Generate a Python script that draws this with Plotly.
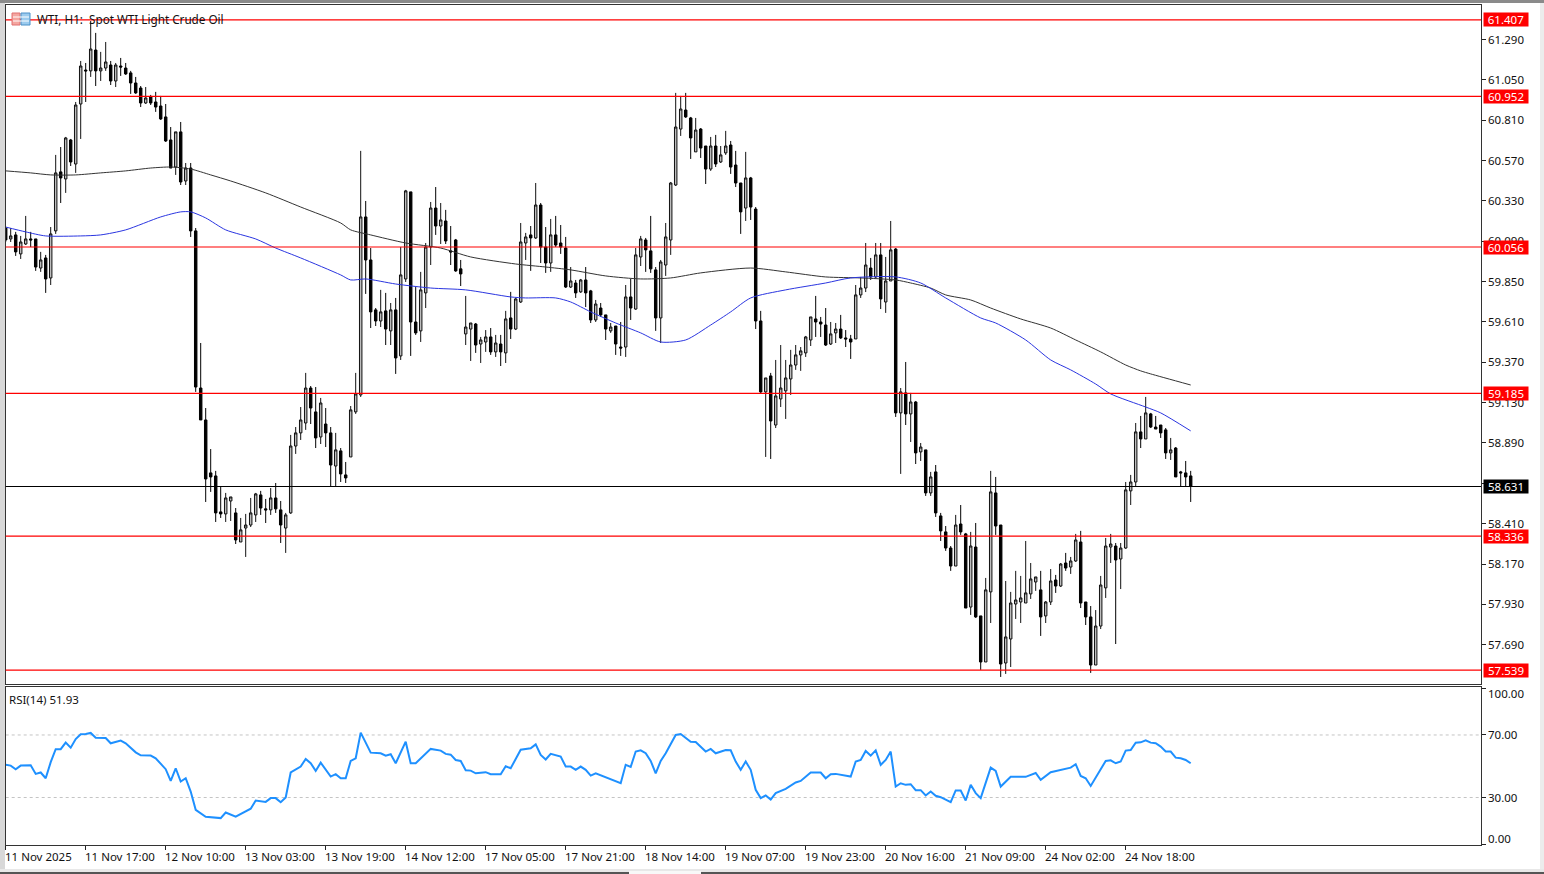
import plotly.graph_objects as go

# Candle data (body top / body bottom / high / low, by bar)
directions = (
    "bwbwwbbwbw" "wbwbwwbwbw" "wbwbbbbbwb" "bbbbwbwbbb" "bbbbwwbwww" "wbbwbbwwww"
    "wbbwbbwbbw" "wwbbbwbwbw" "wbbwwwbwbb" "bbwwbwwbwb" "wbwwwbwbbw" "bbbwbwbbwb"
    "bwbbwbwwbb" "bwwwwwbbwb" "bwbwwbbbwb" "bbwbwwwwww" "wwbbbwwbbb" "wwwbwbwwbw"
    "bwbwbwbbbb" "wbbwbbwwbb" "wwwwwwwbww" "bwbwwbbbww" "wwbwwwwbwb" "bbbwbbbb"
)
body_top = [
    60.169,60.122,60.128,60.086,60.104,60.104,60.104,59.979,59.991,60.134,
    60.497,60.503,60.705,60.693,60.901,61.133,61.109,61.234,61.228,61.121,
    61.157,61.139,61.139,61.133,61.121,61.092,61.032,61.002,60.943,60.949,
    60.919,60.895,60.830,60.693,60.741,60.741,60.526,60.526,60.152,59.217,
    59.027,58.712,58.694,58.480,58.563,58.569,58.474,58.373,58.402,58.474,
    58.587,58.581,58.498,58.563,58.563,58.492,58.462,58.872,58.950,59.027,
    59.217,59.217,59.075,59.128,59.003,58.950,58.849,58.843,58.700,59.087,
    59.182,60.235,60.235,59.979,59.682,59.670,59.676,59.682,59.682,59.890,
    60.390,60.384,59.610,59.801,60.056,60.288,60.288,60.217,60.211,60.033,
    60.098,59.926,59.580,59.604,59.598,59.503,59.521,59.521,59.485,59.479,
    59.628,59.634,59.747,60.086,60.116,60.128,60.306,60.306,60.056,60.128,
    60.128,60.080,60.050,59.854,59.842,59.860,59.860,59.795,59.717,59.693,
    59.652,59.580,59.586,59.461,59.759,59.759,60.009,60.104,60.098,60.033,
    59.920,59.967,60.116,60.437,60.770,60.877,60.871,60.824,60.752,60.758,
    60.657,60.657,60.657,60.604,60.657,60.663,60.544,60.437,60.467,60.467,
    60.282,59.616,59.277,59.289,59.170,59.217,59.277,59.354,59.414,59.438,
    59.521,59.640,59.628,59.610,59.592,59.539,59.568,59.568,59.515,59.509,
    59.771,59.812,59.949,59.931,60.009,60.009,59.854,60.039,60.044,59.194,
    59.188,59.134,59.134,58.866,58.849,58.688,58.718,58.456,58.361,58.265,
    58.402,58.408,58.349,58.277,58.271,57.861,58.016,58.599,58.593,58.402,
    57.736,57.938,57.956,57.968,57.998,58.081,58.093,58.016,57.944,58.069,
    58.075,58.170,58.176,58.188,58.313,58.301,57.944,57.855,57.801,58.045,
    58.277,58.289,58.277,58.265,58.611,58.658,58.956,58.956,59.069,59.063,
    58.985,58.997,58.968,58.849,58.860,58.718,58.712,58.694,
]
body_bottom = [
    60.098,60.104,60.027,60.015,60.074,60.098,59.937,59.931,59.866,59.872,
    60.152,60.467,60.461,60.562,60.550,60.907,61.104,61.104,61.104,61.104,
    61.121,61.044,61.044,61.127,61.086,61.032,60.973,60.913,60.913,60.913,
    60.889,60.818,60.687,60.526,60.532,60.443,60.449,60.152,59.223,59.027,
    58.676,58.688,58.474,58.468,58.468,58.545,58.313,58.301,58.384,58.402,
    58.462,58.503,58.492,58.492,58.498,58.402,58.384,58.474,58.872,58.950,
    59.009,59.098,58.920,58.926,58.950,58.759,58.753,58.706,58.682,58.807,
    59.075,59.176,59.979,59.670,59.616,59.616,59.568,59.557,59.396,59.408,
    59.866,59.610,59.545,59.557,59.783,60.056,60.181,60.181,60.092,60.027,
    59.914,59.896,59.539,59.568,59.473,59.479,59.491,59.432,59.432,59.432,
    59.426,59.568,59.568,59.729,60.080,60.110,60.110,60.056,59.961,59.961,
    60.068,60.056,59.818,59.818,59.783,59.789,59.783,59.622,59.622,59.652,
    59.568,59.557,59.479,59.455,59.461,59.693,59.687,59.997,60.039,59.926,
    59.634,59.634,59.949,60.098,60.425,60.758,60.830,60.705,60.622,60.645,
    60.520,60.520,60.550,60.562,60.616,60.532,60.437,60.265,60.288,60.294,
    59.616,59.194,59.194,59.021,58.997,59.152,59.200,59.271,59.354,59.414,
    59.426,59.503,59.610,59.598,59.473,59.479,59.545,59.515,59.509,59.491,
    59.509,59.771,59.812,59.878,59.878,59.747,59.729,59.854,59.069,59.069,
    59.063,59.063,58.831,58.837,58.593,58.593,58.474,58.367,58.265,58.158,
    58.158,58.361,57.908,57.914,57.855,57.587,57.587,58.004,58.396,57.575,
    57.581,57.724,57.932,57.944,57.938,57.992,58.063,57.855,57.861,57.944,
    58.039,58.039,58.146,58.152,58.188,57.938,57.855,57.569,57.569,57.801,
    58.028,58.271,58.194,58.200,58.265,58.605,58.658,58.914,58.914,58.985,
    58.973,58.950,58.831,58.831,58.688,58.712,58.688,58.634,
]
highs = [
    60.175,60.169,60.146,60.122,60.241,60.146,60.104,60.027,60.009,60.175,
    60.604,60.651,60.711,60.699,60.919,61.163,61.151,61.401,61.330,61.217,
    61.276,61.163,61.151,61.181,61.151,61.104,61.068,61.014,61.008,60.961,
    60.979,60.955,60.907,60.770,60.741,60.800,60.556,60.556,60.169,59.485,
    59.098,58.854,58.724,58.628,58.593,58.569,58.503,58.444,58.468,58.563,
    58.593,58.605,58.557,58.622,58.652,58.545,58.474,58.938,58.985,59.104,
    59.307,59.229,59.223,59.158,59.098,58.985,58.950,58.860,58.777,59.110,
    59.307,60.628,60.330,60.050,59.693,59.801,59.783,59.723,59.753,60.056,
    60.396,60.384,59.818,59.908,60.080,60.324,60.413,60.318,60.277,60.181,
    60.104,59.979,59.765,59.604,59.604,59.521,59.562,59.574,59.533,59.533,
    59.676,59.789,59.753,60.199,60.140,60.181,60.437,60.318,60.175,60.223,
    60.241,60.187,60.116,59.937,59.860,59.866,59.937,59.801,59.741,59.723,
    59.652,59.604,59.586,59.610,59.830,59.866,60.050,60.122,60.110,60.241,
    59.937,59.979,60.199,60.443,60.973,60.955,60.973,60.830,60.824,60.764,
    60.657,60.711,60.723,60.657,60.747,60.687,60.628,60.437,60.622,60.473,
    60.294,59.676,59.277,59.307,59.384,59.473,59.384,59.444,59.473,59.461,
    59.527,59.640,59.765,59.640,59.693,59.610,59.604,59.652,59.562,59.533,
    59.830,59.878,60.080,59.991,60.080,60.080,59.997,60.211,60.050,59.217,
    59.372,59.188,59.140,58.890,58.849,58.718,58.759,58.474,58.396,58.277,
    58.462,58.521,58.355,58.361,58.414,57.861,58.087,58.724,58.688,58.402,
    58.069,58.004,58.129,58.099,58.307,58.176,58.093,58.129,57.950,58.140,
    58.105,58.176,58.236,58.212,58.349,58.367,57.944,57.920,57.896,58.099,
    58.325,58.349,58.295,58.295,58.658,58.700,59.009,59.051,59.164,59.069,
    59.051,58.997,58.979,58.920,58.866,58.724,58.783,58.724,
]
lows = [
    60.086,60.086,60.003,59.985,60.068,60.056,59.914,59.908,59.783,59.830,
    60.134,60.318,60.378,60.538,60.497,60.699,60.919,61.068,61.014,61.044,
    61.104,61.020,61.008,61.074,61.080,60.967,60.967,60.889,60.907,60.901,
    60.860,60.812,60.681,60.526,60.485,60.425,60.425,60.116,59.194,59.027,
    58.539,58.599,58.420,58.444,58.420,58.426,58.289,58.301,58.212,58.390,
    58.420,58.462,58.414,58.462,58.474,58.295,58.236,58.468,58.825,58.908,
    58.968,59.003,58.860,58.884,58.866,58.634,58.634,58.658,58.652,58.807,
    59.063,59.164,59.777,59.574,59.586,59.580,59.473,59.473,59.301,59.384,
    59.848,59.408,59.533,59.491,59.693,59.949,60.128,60.074,60.074,59.949,
    59.908,59.824,59.473,59.378,59.426,59.366,59.432,59.414,59.402,59.348,
    59.366,59.509,59.562,59.723,59.979,59.914,60.104,59.961,59.902,59.908,
    60.056,60.015,59.812,59.812,59.753,59.783,59.699,59.604,59.610,59.640,
    59.503,59.545,59.414,59.408,59.402,59.622,59.682,59.943,59.908,59.902,
    59.557,59.485,59.884,60.009,60.419,60.717,60.824,60.580,60.622,60.586,
    60.431,60.509,60.532,60.556,60.604,60.491,60.413,60.134,60.211,60.217,
    59.568,59.182,58.807,58.795,58.979,59.104,59.033,59.176,59.325,59.319,
    59.402,59.467,59.521,59.521,59.467,59.473,59.485,59.509,59.461,59.390,
    59.509,59.753,59.788,59.860,59.872,59.687,59.664,59.854,59.045,58.706,
    58.997,58.896,58.765,58.783,58.575,58.575,58.450,58.307,58.248,58.129,
    58.158,58.343,57.908,57.867,57.849,57.540,57.587,57.819,58.343,57.498,
    57.516,57.557,57.843,57.819,57.938,57.962,58.010,57.742,57.819,57.926,
    57.998,58.033,58.129,58.111,58.182,57.908,57.807,57.522,57.569,57.783,
    57.968,58.176,57.694,58.021,58.260,58.521,58.634,58.860,58.914,58.979,
    58.973,58.920,58.795,58.789,58.688,58.634,58.634,58.539,
]

# Moving averages: bar index and value
ma_black_bars = [0,5,9,14,19,24,29,33,37,41,45,52,59,67,69,73,80,87,93,102,108,113,120,127,133,139,149,156,164,171,178,181,185,188,193,197,203,209,214,219,224,227,229,237]
ma_black_vals = [60.509,60.497,60.485,60.485,60.497,60.509,60.526,60.532,60.520,60.485,60.449,60.378,60.294,60.199,60.158,60.128,60.080,60.050,59.997,59.955,59.937,59.920,59.884,59.866,59.872,59.902,59.931,59.908,59.878,59.872,59.860,59.842,59.812,59.771,59.741,59.693,59.628,59.574,59.503,59.432,59.354,59.319,59.301,59.235]
ma_blue_bars = [0,4,8,15,19,24,31,35,37,40,44,50,54,59,67,69,72,78,85,92,101,104,110,113,117,122,127,131,136,141,145,149,156,164,169,178,183,188,195,198,204,209,213,218,221,228,231,237]
ma_blue_vals = [60.175,60.146,60.122,60.122,60.128,60.158,60.235,60.265,60.265,60.229,60.158,60.104,60.050,59.991,59.890,59.860,59.866,59.836,59.812,59.801,59.759,59.753,59.753,59.729,59.670,59.604,59.545,59.491,59.503,59.592,59.670,59.753,59.801,59.842,59.872,59.878,59.842,59.753,59.634,59.604,59.503,59.384,59.325,59.241,59.182,59.104,59.069,58.962]

# RSI(14): bar index and value
rsi_bars = [0,1,2,3,5,6,7,8,9,10,11,12,13,14,15,16,17,18,20,21,23,24,26,27,29,30,32,33,34,35,36,37,38,40,43,44,46,49,50,52,53,54,55,56,57,59,60,61,62,63,65,66,67,68,69,70,71,73,75,76,77,78,80,81,82,85,87,88,89,90,91,92,93,94,96,97,99,100,101,103,105,106,107,108,109,111,112,113,114,115,116,117,118,120,121,123,124,125,126,127,128,129,130,131,132,134,135,137,138,140,141,142,144,145,146,147,148,149,150,151,152,153,154,156,158,159,161,163,164,165,166,168,169,170,171,172,173,174,175,176,177,178,179,180,181,182,183,184,185,186,187,189,190,191,192,193,194,195,197,198,199,201,204,206,207,209,211,213,214,215,216,217,220,221,222,223,224,225,226,227,228,229,230,231,232,233,234,235,236,237]
rsi_vals = [50.9,50.4,48.1,50.4,50.6,45.1,46.0,42.3,52.6,60.9,60.9,65.1,61.9,67.4,70.4,70.6,71.3,68.3,68.1,64.7,66.4,64.7,58.9,57.0,56.8,55.1,48.1,40.6,48.7,40.2,42.3,33.8,22.1,17.7,16.8,20.4,17.7,22.8,28.1,27.2,29.6,29.6,27.0,30.0,46.0,49.8,54.7,51.9,47.0,52.3,43.4,44.9,42.3,42.3,53.4,55.1,71.5,58.7,58.3,56.8,57.7,51.9,65.7,51.9,51.9,61.1,60.0,57.9,57.4,54.0,53.4,47.4,47.2,45.5,46.2,44.9,44.9,50.0,48.7,60.6,61.5,64.0,57.2,54.3,57.9,56.2,49.8,49.8,47.7,49.8,47.7,44.0,45.5,42.8,41.7,39.1,50.9,49.6,59.4,60.2,58.3,53.4,45.5,53.4,58.3,70.0,70.6,65.7,65.5,59.4,61.1,58.3,60.4,60.2,53.0,47.7,53.0,47.7,34.9,29.6,31.3,28.7,32.8,35.5,39.6,40.6,46.0,46.0,42.3,44.9,45.1,43.8,43.4,53.0,54.0,59.8,56.8,60.2,50.9,54.0,59.4,37.0,39.1,38.1,38.5,34.7,34.7,31.3,33.8,31.1,30.2,27.0,34.5,34.5,28.1,38.1,32.8,29.6,49.1,47.0,37.0,43.2,43.2,45.7,41.3,46.2,47.7,49.1,51.3,43.8,42.3,37.4,53.4,53.8,51.9,53.0,60.0,60.4,65.1,65.3,66.6,65.1,64.7,62.6,59.4,59.4,55.5,55.1,54.0,51.9]

red_levels = [61.407, 60.952, 60.056, 59.185, 58.336, 57.539]
last_price = 58.631
price_ticks = [61.29,61.05,60.81,60.57,60.33,60.09,59.85,59.61,59.37,59.13,58.89,58.65,58.41,58.17,57.93,57.69]
price_tick_labels = ["61.290","61.050","60.810","60.570","60.330","60.090","59.850","59.610","59.370","59.130","58.890","","58.410","58.170","57.930","57.690"]
rsi_ticks = [100, 70, 30, 0]
time_tick_bars = [0,16,32,48,64,80,96,112,128,144,160,176,192,208,224]
time_tick_labels = ["11 Nov 2025","11 Nov 17:00","12 Nov 10:00","13 Nov 03:00","13 Nov 19:00","14 Nov 12:00","17 Nov 05:00","17 Nov 21:00","18 Nov 14:00","19 Nov 07:00","19 Nov 23:00","20 Nov 16:00","21 Nov 09:00","24 Nov 02:00","24 Nov 18:00"]
title_text = "WTI, H1:  Spot WTI Light Crude Oil"
rsi_title = "RSI(14) 51.93"

W, H = 1544, 874
FONT = "Noto Sans"
def px(x): return x / W
def py(y): return 1 - y / H

bars = list(range(len(body_top)))
opens = [b if d == "w" else t for d, t, b in zip(directions, body_top, body_bottom)]
closes = [t if d == "w" else b for d, t, b in zip(directions, body_top, body_bottom)]

fig = go.Figure()
fig.add_trace(go.Candlestick(
    x=bars, open=opens, high=highs, low=lows, close=closes,
    whiskerwidth=0, xaxis="x", yaxis="y",
    increasing=dict(line=dict(color="#111111", width=1), fillcolor="#bdbdbd"),
    decreasing=dict(line=dict(color="#000000", width=1), fillcolor="#000000"),
    hoverinfo="skip", showlegend=False))
fig.add_trace(go.Scatter(x=ma_black_bars, y=ma_black_vals, mode="lines", xaxis="x", yaxis="y",
                         line=dict(color="#333333", width=1, shape="spline", smoothing=0.7),
                         showlegend=False, hoverinfo="skip"))
fig.add_trace(go.Scatter(x=ma_blue_bars, y=ma_blue_vals, mode="lines", xaxis="x", yaxis="y",
                         line=dict(color="#2a35e0", width=1, shape="spline", smoothing=0.7),
                         showlegend=False, hoverinfo="skip"))
fig.add_trace(go.Scatter(x=rsi_bars, y=rsi_vals, mode="lines", xaxis="x2", yaxis="y2",
                         line=dict(color="#1e90ff", width=2), showlegend=False, hoverinfo="skip"))

shapes = []
for lvl in red_levels:
    shapes.append(dict(type="line", xref="paper", yref="y", x0=px(5.7), x1=px(1481), y0=lvl, y1=lvl,
                       line=dict(color="#ff0000", width=1.2), layer="above"))
shapes.append(dict(type="line", xref="paper", yref="y", x0=px(5.7), x1=px(1481), y0=last_price, y1=last_price,
                   line=dict(color="#000000", width=1.2), layer="above"))
for lvl in (70, 30):
    shapes.append(dict(type="line", xref="paper", yref="y2", x0=px(5.7), x1=px(1481), y0=lvl, y1=lvl,
                       line=dict(color="#c4c4c4", width=1, dash="3px,3px"), layer="below"))
# window chrome
def rect(x0, y0, x1, y1, color):
    return dict(type="rect", xref="paper", yref="paper", x0=px(x0), x1=px(x1), y0=py(y1), y1=py(y0),
                line=dict(width=0), fillcolor=color, layer="below")
shapes += [rect(0,0,1544,3,"#8a8a8a"), rect(0,3,5,874,"#d8d8d8"), rect(1540,3,1544,874,"#ececec"),
           rect(0,869,1544,872,"#e8e8e8"), rect(0,872,1544,874,"#555555"), rect(629,871,701,874,"#f8f8f8")]
# legend icon
shapes += [
    dict(type="rect", xref="paper", yref="paper", x0=px(12), x1=px(20), y0=py(25), y1=py(13),
         line=dict(color="#e07070", width=1), fillcolor="#f4a6a0", layer="above"),
    dict(type="rect", xref="paper", yref="paper", x0=px(21), x1=px(30), y0=py(25), y1=py(13),
         line=dict(color="#4a90c8", width=1), fillcolor="#9ccbee", layer="above"),
]
for yy in (17, 21):
    shapes.append(dict(type="line", xref="paper", yref="paper", x0=px(13), x1=px(29), y0=py(yy), y1=py(yy),
                       line=dict(color="#ffffff", width=1), layer="above"))

ann = [
    dict(text=title_text, xref="paper", yref="paper", x=px(35), y=py(19), xanchor="left", yanchor="middle",
         showarrow=False, font=dict(family=FONT, size=11.7, color="#111111")),
    dict(text=rsi_title, xref="paper", yref="paper", x=px(7), y=py(699), xanchor="left", yanchor="middle",
         showarrow=False, font=dict(family=FONT, size=11.5, color="#111111")),
]
def box(val, color):
    return dict(text=f"{val:.3f}", xref="paper", yref="y", x=px(1506), y=val, xanchor="center", yanchor="middle",
                showarrow=False, bgcolor=color, width=44, height=13, borderpad=0,
                font=dict(family=FONT, size=11.5, color="#ffffff"))
ann += [box(l, "#ff0000") for l in red_levels]
ann.append(box(last_price, "#000000"))
for v in rsi_ticks:
    shift = -5 if v == 100 else 6 if v == 0 else 0
    ann.append(dict(text=f"{v:.2f}", xref="paper", yref="y2", x=px(1486), y=v, yshift=shift, xanchor="left",
                    yanchor="middle", showarrow=False, font=dict(family=FONT, size=11.5, color="#111111")))
for b, t in zip(time_tick_bars, time_tick_labels):
    ann.append(dict(text=t, xref="x2", yref="paper", x=b, y=py(856), xanchor="left", yanchor="middle",
                    xshift=-3, showarrow=False, font=dict(family=FONT, size=11.5, color="#111111")))

frame = dict(showgrid=False, zeroline=False, showline=True, linecolor="#333333", linewidth=1, mirror=True)
xrange_bars = [0, 295]
fig.update_layout(
    width=W, height=H, autosize=False, margin=dict(l=0, r=0, t=0, b=0),
    paper_bgcolor="#ffffff", plot_bgcolor="#ffffff", showlegend=False,
    shapes=shapes, annotations=ann,
    xaxis=dict(domain=[px(5.7), px(1480.7)], range=xrange_bars, anchor="y", showticklabels=False, ticks="",
               rangeslider=dict(visible=False), **frame),
    yaxis=dict(domain=[py(684), py(5)], range=[57.456, 61.496], anchor="x", side="right",
               tickmode="array", tickvals=price_ticks, ticktext=price_tick_labels,
               ticks="outside", ticklen=4, tickcolor="#222222",
               tickfont=dict(family=FONT, size=11.5, color="#111111"), **frame),
    xaxis2=dict(domain=[px(5.7), px(1480.7)], range=xrange_bars, anchor="y2", showticklabels=False,
                tickmode="array", tickvals=time_tick_bars, ticks="outside", ticklen=4, tickcolor="#222222", **frame),
    yaxis2=dict(domain=[py(845), py(687)], range=[-0.4, 100.7], anchor="x2", side="right",
                tickmode="array", tickvals=rsi_ticks, showticklabels=False,
                ticks="outside", ticklen=4, tickcolor="#222222", **frame),
)
fig.write_html("out.html", config={"displayModeBar": False}, post_script="document.body.style.margin='0';")
